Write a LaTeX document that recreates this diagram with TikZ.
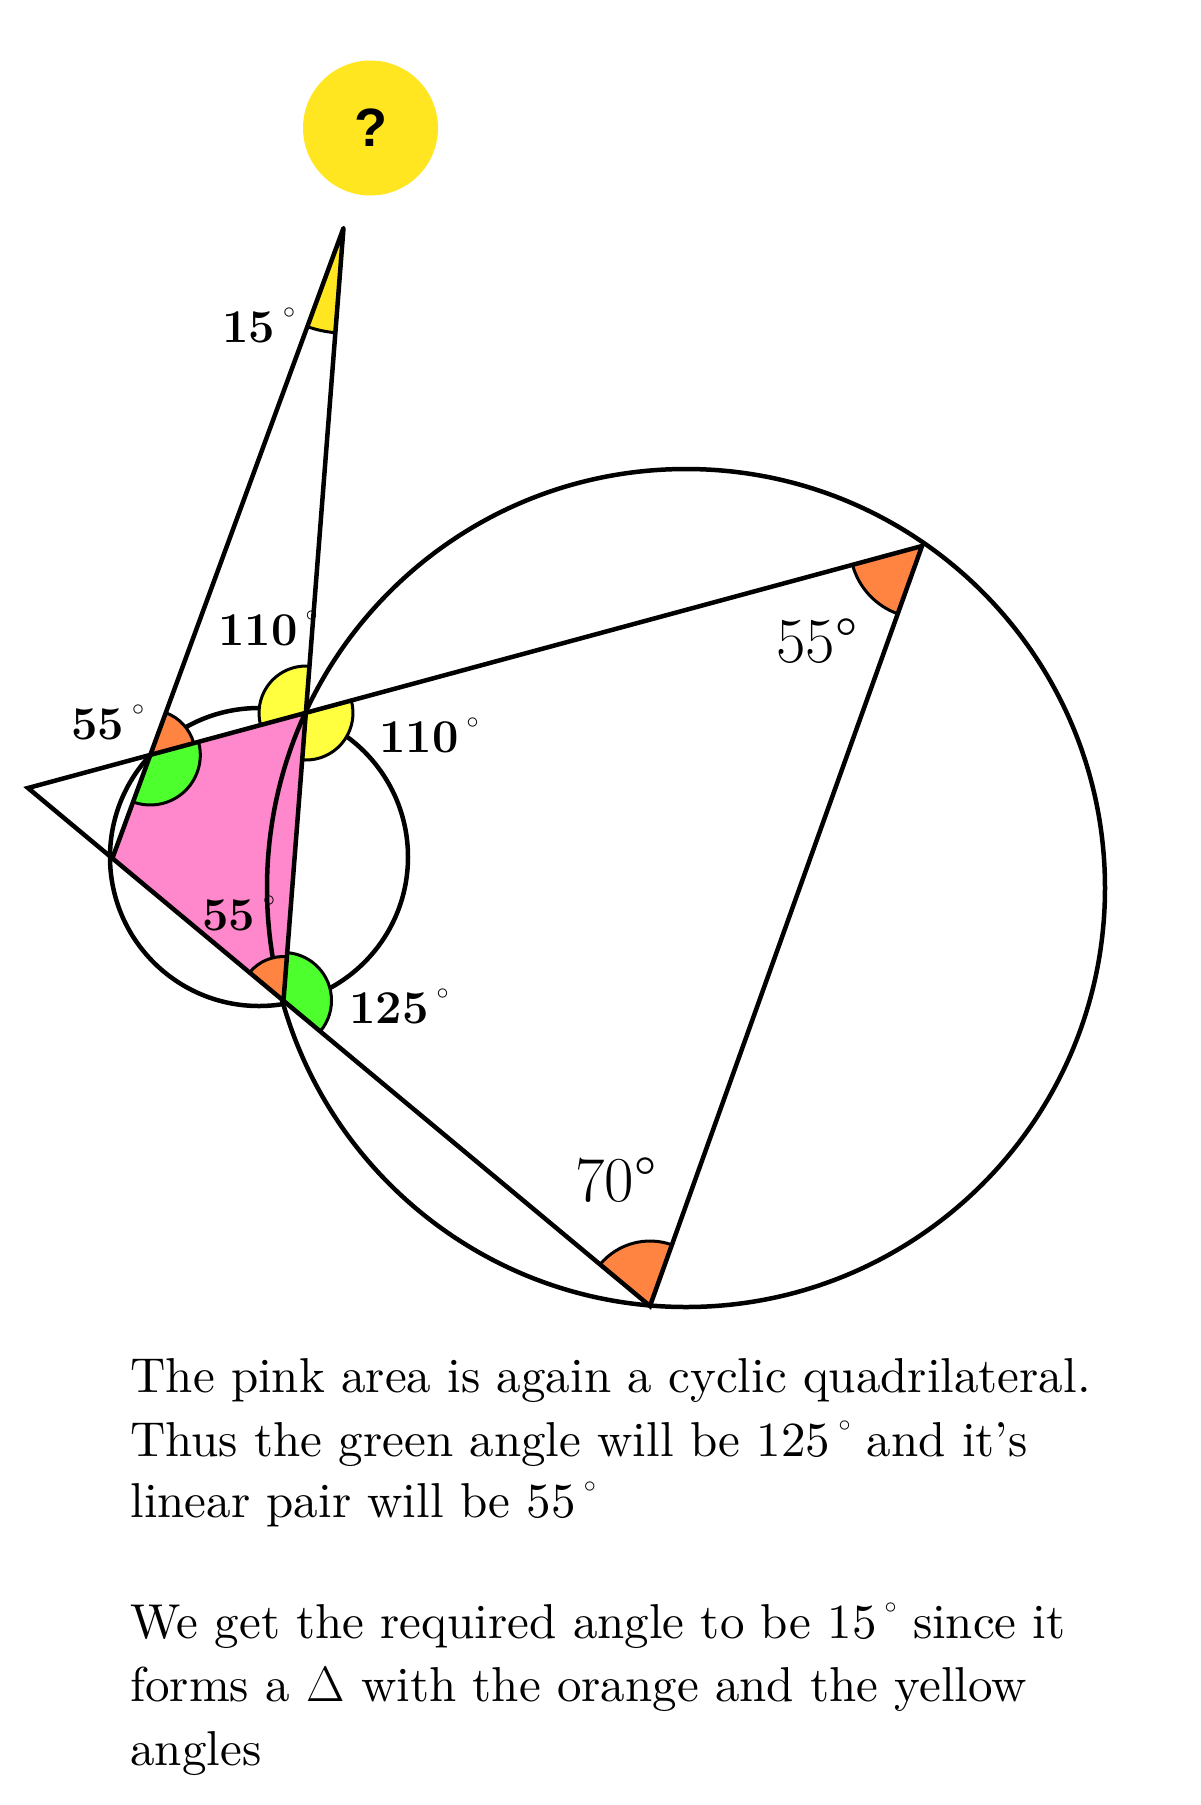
\documentclass[tikz,border=0pt]{standalone}
\usepackage{fontspec}
\newfontfamily\qfont{Liberation Sans}
\newfontfamily\tenrm{lmroman10-regular}[Extension=.otf, Ligatures=TeX]
\usetikzlibrary{calc}
\definecolor{pinkc}{RGB}{255,136,204}
\definecolor{greenc}{RGB}{78,255,46}
\definecolor{orangec}{RGB}{255,132,66}
\definecolor{yellowc}{RGB}{255,255,64}
\definecolor{goldc}{RGB}{255,230,32}
\newcommand\dg{\raisebox{0.5em}{$\scriptscriptstyle\circ$}}
\tikzset{
  ln/.style={line width=2.25pt, line join=round, line cap=round},
  mk/.style={line width=1.5pt, line join=round},
  lbl/.style={anchor=base west, inner sep=0pt, font=\bfseries\fontsize{23.5}{28}\selectfont},
  biglbl/.style={anchor=base west, inner sep=0pt, font=\fontsize{32}{38}\selectfont},
  txt/.style={anchor=base west, inner sep=0pt, font=\tenrm\fontsize{24.5}{30}\selectfont}
}
\newcommand\angsector[5]{%
  \draw[mk,fill=#5] let \p1=($(#2)-(#1)$), \p2=($(#3)-(#1)$),
    \n1={atan2(\y1,\x1)}, \n2={\n1+mod(atan2(\y2,\x2)-\n1+720,360)} in
    (#1) -- ($(#1)!#4!(#2)$) arc[start angle=\n1, end angle=\n2, radius=#4] -- cycle;}
\begin{document}
\begin{tikzpicture}[x=0.5pt, y=-0.5pt]
\useasboundingbox (0,0) rectangle (1200,1805);
% points (pixel coordinates, y downward)
\coordinate (A) at (343.5,228);
\coordinate (F) at (28,788);
\coordinate (R) at (922,546);
\coordinate (B) at (650,1306);
\coordinate (T) at (306,713);
\coordinate (Q) at (283.5,1000.5);
\coordinate (U) at (150.3,755);
\coordinate (L) at (112.5,858);
\coordinate (O1) at (259,857);
\coordinate (O2) at (686,888);
% question badge
\node[circle, fill=goldc, minimum size=67.5pt, inner sep=0pt,
      font=\qfont\bfseries\fontsize{27}{27}\selectfont] (qm) at (370.5,128) {?};
% pink quadrilateral
\fill[pinkc] (L) -- (U) -- (T) -- (Q) -- cycle;
% circles
\draw[ln] (O1) circle[radius=74.5pt];
\draw[ln] (O2) circle[radius=209.5pt];
% angle markers
\angsector{A}{L}{Q}{52.5pt}{goldc}
\angsector{R}{F}{B}{36pt}{orangec}
\angsector{B}{R}{F}{32.5pt}{orangec}
\angsector{U}{R}{A}{22.5pt}{orangec}
\angsector{U}{L}{R}{25pt}{greenc}
\angsector{T}{A}{F}{23.5pt}{yellowc}
\angsector{T}{Q}{R}{23.5pt}{yellowc}
\angsector{Q}{T}{L}{22pt}{orangec}
\angsector{Q}{B}{T}{24pt}{greenc}
% straight lines
\draw[ln] (L) -- (A) -- (Q);
\draw[line width=2.25pt] (F) -- (R) -- (B) -- cycle;
% angle labels
\node[lbl] (l15) at (222,342) {15\,\dg};
\node[lbl] (l110a) at (218,645) {110\,\dg};
\node[lbl] (l110b) at (379,752) {110\,\dg};
\node[lbl] (l55a) at (71,739) {55\,\dg};
\node[lbl] (l55b) at (202,930) {55\,\dg};
\node[lbl] (l125) at (349,1023) {125\,\dg};
\node[biglbl] (l55c) at (776,662) {55\textdegree};
\node[biglbl] (l70) at (575,1201) {70\textdegree};
% explanation text
\node[txt] (t1) at (130,1392.7) {The pink area is again a cyclic quadrilateral.};
\node[txt] (t2) at (130,1456) {Thus the green angle will be 125\,\dg\ and it's};
\node[txt] (t3) at (130,1517) {linear pair will be 55\,\dg};
\node[txt] (t4) at (130,1638.3) {We get the required angle to be 15\,\dg\ since it};
\node[txt] (t5) at (130,1701.7) {forms a $\Delta$ with the orange and the yellow};
\node[txt] (t6) at (130,1765) {angles};
\end{tikzpicture}
\end{document}
